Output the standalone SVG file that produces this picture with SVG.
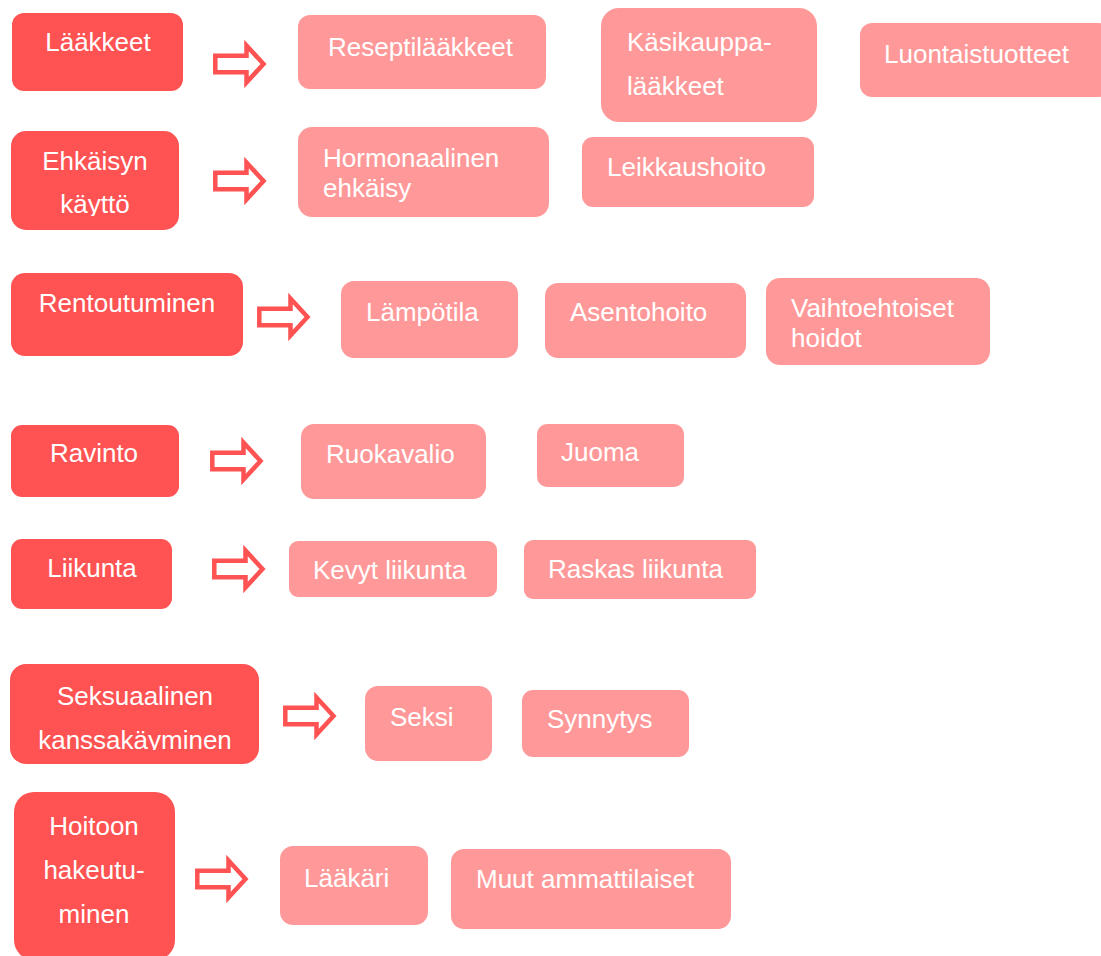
<svg xmlns="http://www.w3.org/2000/svg" xmlns:xlink="http://www.w3.org/1999/xlink" width="1101" height="956" viewBox="0 0 1101 956">
<style>
.d{fill:#FF5252}
.l{fill:#FF9999}
text{font-family:"Liberation Sans",Arial,sans-serif;font-size:26px;fill:#FFFFFF}
.c{text-anchor:middle}
.arr{fill:#FFFFFF;stroke:#FF5252;stroke-width:4.5;stroke-linejoin:miter}
</style>
<defs>
<path id="arrow" class="arr" d="M2.3,13.8 H33.5 V3.5 L50.5,22 L33.5,40.5 V30.2 H2.3 Z"/>
<clipPath id="clipE"><rect x="11" y="131" width="168" height="85"/></clipPath>
<clipPath id="clipS"><rect x="10" y="664" width="249" height="86"/></clipPath>
</defs>
<rect width="1101" height="956" fill="#FFFFFF"/>

<g id="n-laakkeet"><rect class="d" x="12" y="13" width="171" height="78" rx="12"/><text class="c" x="98" y="51">Lääkkeet</text></g>
<g id="n-resepti"><rect class="l" x="298" y="15" width="248" height="74" rx="12"/><text x="328" y="56">Reseptilääkkeet</text></g>
<g id="n-kasikauppa"><rect class="l" x="601" y="8" width="216" height="114" rx="18"/><text x="627" y="51">Käsikauppa-</text><text x="627" y="95">lääkkeet</text></g>
<g id="n-luontais"><rect class="l" x="860" y="23" width="250" height="74" rx="12"/><text x="884" y="63">Luontaistuotteet</text></g>

<g id="n-ehkaisyn"><rect class="d" x="11" y="131" width="168" height="99" rx="15"/><text class="c" x="95" y="170">Ehkäisyn</text><text class="c" x="95" y="213" clip-path="url(#clipE)">käyttö</text></g>
<g id="n-hormonaalinen"><rect class="l" x="298" y="127" width="251" height="90" rx="14"/><text x="323" y="167">Hormonaalinen</text><text x="323" y="197">ehkäisy</text></g>
<g id="n-leikkaus"><rect class="l" x="582" y="137" width="232" height="70" rx="11"/><text x="607" y="176">Leikkaushoito</text></g>

<g id="n-rentoutuminen"><rect class="d" x="11" y="273" width="232" height="83" rx="14"/><text class="c" x="127" y="312">Rentoutuminen</text></g>
<g id="n-lampotila"><rect class="l" x="341" y="281" width="177" height="77" rx="13"/><text x="366" y="321">Lämpötila</text></g>
<g id="n-asento"><rect class="l" x="545" y="283" width="201" height="75" rx="13"/><text x="570" y="321">Asentohoito</text></g>
<g id="n-vaihto"><rect class="l" x="766" y="278" width="224" height="87" rx="14"/><text x="791" y="317">Vaihtoehtoiset</text><text x="791" y="347">hoidot</text></g>

<g id="n-ravinto"><rect class="d" x="11" y="425" width="168" height="72" rx="11"/><text class="c" x="94" y="462">Ravinto</text></g>
<g id="n-ruokavalio"><rect class="l" x="301" y="424" width="185" height="75" rx="13"/><text x="326" y="463">Ruokavalio</text></g>
<g id="n-juoma"><rect class="l" x="537" y="424" width="147" height="63" rx="10"/><text x="561" y="461">Juoma</text></g>

<g id="n-liikunta"><rect class="d" x="11" y="539" width="161" height="70" rx="11"/><text class="c" x="92" y="577">Liikunta</text></g>
<g id="n-kevyt"><rect class="l" x="289" y="541" width="208" height="56" rx="9"/><text x="313" y="579">Kevyt liikunta</text></g>
<g id="n-raskas"><rect class="l" x="524" y="540" width="232" height="59" rx="9"/><text x="548" y="578">Raskas liikunta</text></g>

<g id="n-seksuaalinen"><rect class="d" x="10" y="664" width="249" height="100" rx="16"/><text class="c" x="135" y="705">Seksuaalinen</text><text class="c" x="135" y="749" clip-path="url(#clipS)">kanssakäyminen</text></g>
<g id="n-seksi"><rect class="l" x="365" y="686" width="127" height="75" rx="13"/><text x="390" y="726">Seksi</text></g>
<g id="n-synnytys"><rect class="l" x="522" y="690" width="167" height="67" rx="11"/><text x="547" y="728">Synnytys</text></g>

<g id="n-hoitoon"><rect class="d" x="14" y="792" width="161" height="168" rx="20"/><text class="c" x="94" y="835">Hoitoon</text><text class="c" x="94" y="879">hakeutu-</text><text class="c" x="94" y="923">minen</text></g>
<g id="n-laakari"><rect class="l" x="280" y="846" width="148" height="79" rx="13"/><text x="304" y="887">Lääkäri</text></g>
<g id="n-muut"><rect class="l" x="451" y="849" width="280" height="80" rx="13"/><text x="476" y="888">Muut ammattilaiset</text></g>

<g id="connectors">
<use xlink:href="#arrow" href="#arrow" x="213" y="42"/>
<use xlink:href="#arrow" href="#arrow" x="213" y="159"/>
<use xlink:href="#arrow" href="#arrow" x="257" y="295"/>
<use xlink:href="#arrow" href="#arrow" x="210" y="439"/>
<use xlink:href="#arrow" href="#arrow" x="212" y="547"/>
<use xlink:href="#arrow" href="#arrow" x="283" y="694"/>
<use xlink:href="#arrow" href="#arrow" x="195" y="857"/>
</g>
</svg>
